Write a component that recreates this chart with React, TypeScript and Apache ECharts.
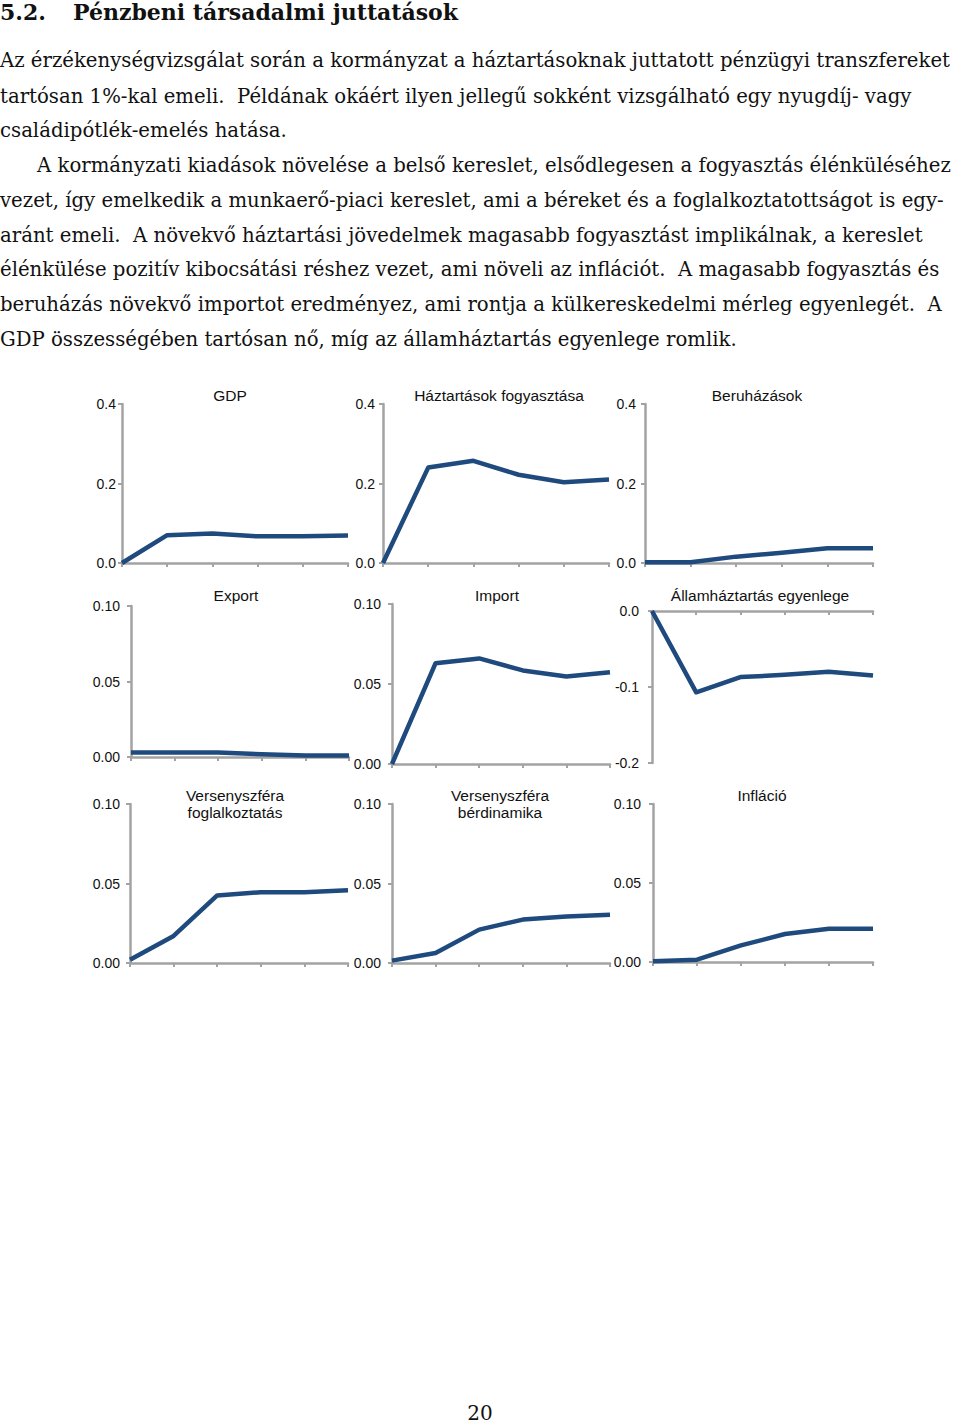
import React, { useEffect, useRef } from "react";
import * as echarts from "echarts";

// ---- data ----
const periods = ["0", "1", "2", "3", "4", "5"];
const gdp = [0, 0.07, 0.074, 0.067, 0.067, 0.069];
const haztartasFogyasztas = [0, 0.24, 0.257, 0.222, 0.203, 0.21];
const beruhazasok = [0.002, 0.002, 0.016, 0.026, 0.037, 0.037];
const exportData = [0.003, 0.003, 0.003, 0.0018, 0.001, 0.001];
const importData = [0, 0.063, 0.066, 0.0585, 0.0547, 0.0574];
const allamhaztartas = [0, -0.107, -0.087, -0.084, -0.08, -0.085];
const versenyFoglalkoztatas = [0.002, 0.017, 0.0425, 0.0445, 0.0445, 0.0457];
const versenyBer = [0.0015, 0.0063, 0.021, 0.0273, 0.0293, 0.0304];
const inflacio = [0.0004, 0.0015, 0.0105, 0.0177, 0.021, 0.021];

const chartTitles = [
  ["GDP"],
  ["Háztartások fogyasztása"],
  ["Beruházások"],
  ["Export"],
  ["Import"],
  ["Államháztartás egyenlege"],
  ["Versenyszféra", "foglalkoztatás"],
  ["Versenyszféra", "bérdinamika"],
  ["Infláció"],
];
const seriesData = [
  gdp,
  haztartasFogyasztas,
  beruhazasok,
  exportData,
  importData,
  allamhaztartas,
  versenyFoglalkoztatas,
  versenyBer,
  inflacio,
];
// y scale: [min, max, interval, decimals]
const yScales = [
  [0, 0.4, 0.2, 1],
  [0, 0.4, 0.2, 1],
  [0, 0.4, 0.2, 1],
  [0, 0.1, 0.05, 2],
  [0, 0.1, 0.05, 2],
  [-0.2, 0, 0.1, 1],
  [0, 0.1, 0.05, 2],
  [0, 0.1, 0.05, 2],
  [0, 0.1, 0.05, 2],
];

const heading = ["5.2.", "Pénzbeni társadalmi juttatások"];
const paragraphLines = [
  "Az érzékenységvizsgálat során a kormányzat a háztartásoknak juttatott pénzügyi transzfereket",
  "tartósan 1%-kal emeli.  Példának okáért ilyen jellegű sokként vizsgálható egy nyugdíj- vagy",
  "családipótlék-emelés hatása.",
  "A kormányzati kiadások növelése a belső kereslet, elsődlegesen a fogyasztás élénküléséhez",
  "vezet, így emelkedik a munkaerő-piaci kereslet, ami a béreket és a foglalkoztatottságot is egy-",
  "aránt emeli.  A növekvő háztartási jövedelmek magasabb fogyasztást implikálnak, a kereslet",
  "élénkülése pozitív kibocsátási réshez vezet, ami növeli az inflációt.  A magasabb fogyasztás és",
  "beruházás növekvő importot eredményez, ami rontja a külkereskedelmi mérleg egyenlegét.  A",
  "GDP összességében tartósan nő, míg az államháztartás egyenlege romlik.",
];
const pageNumber = "20";

// ---- layout (pixels) ----
// [left, top, rightEdge, bottomEdge]
const gridBoxes = [
  [122, 404, 348, 563],
  [383, 404, 609, 563],
  [645, 404, 873, 563],
  [131, 606, 349, 757],
  [392, 604, 610, 764],
  [652, 611, 873, 763],
  [130, 804, 348, 963],
  [392, 804, 610, 963],
  [653, 804, 873, 962],
];
const labelMargins = [6, 8, 9, 11, 11, 13, 10, 11, 12];
const titleCenters = [
  [230, 395],
  [499, 395],
  [757, 395],
  [236, 595],
  [497, 595],
  [760, 595],
  [235, 795],
  [500, 795],
  [762, 795],
];
const lineYs = [60, 96, 130, 165, 200, 235, 269, 304, 339];

const AXIS_GRAY = "#a3a3a3";
const LINE_BLUE = "#1f4a7e";
const SANS = "'Liberation Sans', Arial, sans-serif";
const SERIF = "'DejaVu Serif', 'Liberation Serif', serif";

export default function App() {
  const ref = useRef<HTMLDivElement>(null);

  useEffect(() => {
    if (!ref.current) return;
    const chart = echarts.init(ref.current, undefined, { renderer: "svg" });

    const grids: any[] = [];
    const xAxes: any[] = [];
    const yAxes: any[] = [];
    const series: any[] = [];
    const graphics: any[] = [];

    seriesData.forEach((data, i) => {
      const [l, t, r, b] = gridBoxes[i];
      const [mn, mx, iv, dec] = yScales[i];
      const negative = mx <= 0;
      grids.push({ left: l, top: t, width: r - l, height: b - t, containLabel: false });
      xAxes.push({
        type: "category",
        gridIndex: i,
        data: periods,
        boundaryGap: false,
        position: negative ? "top" : "bottom",
        axisLine: { show: true, onZero: false, lineStyle: { color: AXIS_GRAY, width: 2.5 } },
        axisTick: { show: true, inside: negative, length: 4, lineStyle: { color: AXIS_GRAY, width: 2 } },
        axisLabel: { show: false },
        splitLine: { show: false },
      });
      yAxes.push({
        type: "value",
        gridIndex: i,
        min: mn,
        max: mx,
        interval: iv,
        axisLine: { show: true, lineStyle: { color: AXIS_GRAY, width: 2.5 } },
        axisTick: { show: true, length: 4, lineStyle: { color: AXIS_GRAY, width: 2 } },
        axisLabel: {
          margin: labelMargins[i],
          color: "#111",
          fontFamily: SANS,
          fontSize: 14,
          formatter: (v: number) => (Math.abs(v) < 1e-9 ? 0 : v).toFixed(dec),
        },
        splitLine: { show: false },
      });
      series.push({
        type: "line",
        xAxisIndex: i,
        yAxisIndex: i,
        data,
        symbol: "none",
        lineStyle: { color: LINE_BLUE, width: 4.5, join: "round", cap: "butt" },
      });
      const [cx, cy] = titleCenters[i];
      chartTitles[i].forEach((txt, k) => {
        graphics.push({
          type: "text",
          x: cx,
          y: cy + k * 17,
          style: {
            text: txt,
            align: "center",
            verticalAlign: "middle",
            fontFamily: SANS,
            fontSize: 15.5,
            fill: "#111",
          },
        });
      });
    });

    // heading
    graphics.push({
      type: "text",
      x: 0,
      y: 12,
      style: { text: heading[0], align: "left", verticalAlign: "middle", fontFamily: SERIF, fontWeight: "bold", fontSize: 22, fill: "#111" },
    });
    graphics.push({
      type: "text",
      x: 73,
      y: 12,
      style: { text: heading[1], align: "left", verticalAlign: "middle", fontFamily: SERIF, fontWeight: "bold", fontSize: 22, fill: "#111" },
    });
    paragraphLines.forEach((line, i) => {
      graphics.push({
        type: "text",
        x: i === 3 ? 37 : 0,
        y: lineYs[i],
        style: { text: line, align: "left", verticalAlign: "middle", fontFamily: SERIF, fontSize: 19.7, fill: "#111" },
      });
    });
    graphics.push({
      type: "text",
      x: 480,
      y: 1413,
      style: { text: pageNumber, align: "center", verticalAlign: "middle", fontFamily: SERIF, fontSize: 20, fill: "#111" },
    });

    chart.setOption({
      animation: false,
      backgroundColor: "#ffffff",
      grid: grids,
      xAxis: xAxes,
      yAxis: yAxes,
      series,
      graphic: graphics,
    });

    return () => chart.dispose();
  }, []);

  return (
    <div
      ref={ref}
      style={{ position: "absolute", left: 0, top: 0, width: 960, height: 1424, background: "#fff" }}
    />
  );
}
